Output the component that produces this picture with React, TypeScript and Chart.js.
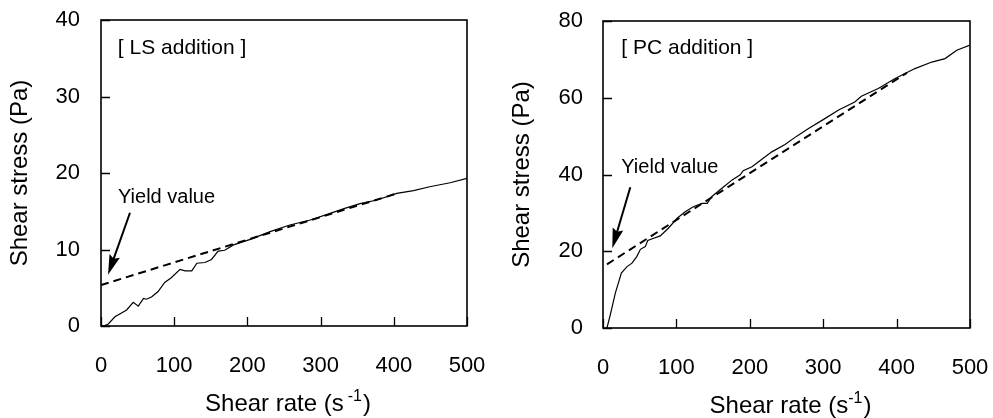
import React, { useEffect, useRef } from 'react';
import { Chart, registerables } from 'chart.js';

Chart.register(...registerables);

const FONT = '"Liberation Sans", Arial, Helvetica, sans-serif';

// ---- data: LS addition ----
const lsRate = [0, 5, 10, 19, 28, 35, 44, 51, 58, 62, 69, 78, 87, 96, 108, 115, 124, 131, 142, 151, 160, 169, 181, 204, 231, 258, 286, 313, 333, 354, 377, 404, 427, 449, 477, 500];
const lsStress = [0, 0.05, 0.26, 1.2, 1.7, 2.1, 3.1, 2.6, 3.6, 3.5, 3.8, 4.5, 5.7, 6.3, 7.4, 7.2, 7.2, 8.2, 8.3, 8.7, 9.8, 9.9, 10.6, 11.33, 12.33, 13.2, 13.86, 14.73, 15.38, 16.0, 16.47, 17.34, 17.69, 18.2, 18.73, 19.3];
const lsFitRate = [0, 405];
const lsFitStress = [5.35, 17.35];

// ---- data: PC addition ----
const pcRate = [5.4, 10, 16.8, 25, 32.7, 39.5, 46, 51, 57.6, 61, 69, 78, 89, 101, 112, 123, 135, 142, 148, 162, 176, 187, 191, 203, 216, 230, 248, 264, 280, 300, 321, 343, 352, 375, 398, 425, 448, 466, 482, 500];
const pcStress = [0, 3.5, 9.1, 14.3, 16.0, 16.9, 18.6, 20.5, 21.2, 22.8, 23.4, 24.0, 26.0, 28.6, 30.3, 31.6, 32.5, 32.5, 34.2, 36.4, 38.6, 39.9, 41.0, 42.0, 43.9, 45.9, 47.8, 50.0, 52.0, 54.3, 56.8, 58.9, 60.4, 62.4, 65.0, 67.6, 69.3, 70.2, 72.4, 73.7];
const pcFitRate = [5.4, 414];
const pcFitStress = [16.6, 66.5];

const xTicks = [0, 100, 200, 300, 400, 500];
const lsYTicks = [0, 10, 20, 30, 40];
const pcYTicks = [0, 20, 40, 60, 80];

const H = 418;

type Panel = {
  label: string;
  rate: number[];
  stress: number[];
  fitRate: number[];
  fitStress: number[];
  yTicks: number[];
  width: number;
  area: { left: number; right: number; top: number; bottom: number };
  yLabelPad: number;
  yTitlePad: number;
  labelAt: [number, number];
  yieldAt: [number, number];
  arrowFrom: [number, number];
  arrowTo: [number, number];
  supGap: number;
  xTitleBaseline: number;
  xTitleShift: number;
};

const panels: Panel[] = [
  {
    label: '[ LS addition ]',
    rate: lsRate, stress: lsStress, fitRate: lsFitRate, fitStress: lsFitStress,
    yTicks: lsYTicks,
    width: 496,
    area: { left: 101, right: 467, top: 20, bottom: 326 },
    yLabelPad: 21, yTitlePad: 6,
    labelAt: [23, 35.6],
    yieldAt: [23.2, 16.1],
    arrowFrom: [39.6, 14.8],
    arrowTo: [9.6, 6.7],
    supGap: 4,
    xTitleBaseline: 411,
    xTitleShift: 4,
  },
  {
    label: '[ PC addition ]',
    rate: pcRate, stress: pcStress, fitRate: pcFitRate, fitStress: pcFitStress,
    yTicks: pcYTicks,
    width: 497,
    area: { left: 107, right: 474, top: 21, bottom: 328 },
    yLabelPad: 20, yTitlePad: 12,
    labelAt: [24.9, 71.5],
    yieldAt: [24.9, 40.3],
    arrowFrom: [37.2, 36.7],
    arrowTo: [12.7, 20.8],
    supGap: 0,
    xTitleBaseline: 413,
    xTitleShift: 4,
  },
];

function makePlugin(p: Panel) {
  return {
    id: 'decor',
    afterDraw(chart: any) {
      const ctx: CanvasRenderingContext2D = chart.ctx;
      const xs = chart.scales.x;
      const ys = chart.scales.y;
      const a = chart.chartArea;
      ctx.save();
      // inward ticks
      ctx.strokeStyle = '#000';
      ctx.lineWidth = 1.3;
      ctx.beginPath();
      xs.ticks.forEach((t: any) => {
        const px = Math.round(xs.getPixelForValue(t.value)) + 0.5;
        ctx.moveTo(px, a.bottom);
        ctx.lineTo(px, a.bottom - 9);
      });
      ys.ticks.forEach((t: any) => {
        const py = Math.round(ys.getPixelForValue(t.value)) + 0.5;
        ctx.moveTo(a.left, py);
        ctx.lineTo(a.left + 9, py);
      });
      ctx.stroke();
      // frame
      ctx.lineWidth = 1.6;
      ctx.strokeRect(a.left, a.top, a.right - a.left, a.bottom - a.top);

      // panel label
      ctx.fillStyle = '#000';
      ctx.textBaseline = 'alphabetic';
      ctx.textAlign = 'left';
      ctx.font = `21px ${FONT}`;
      ctx.fillText(p.label, xs.getPixelForValue(p.labelAt[0]), ys.getPixelForValue(p.labelAt[1]));
      ctx.font = `20px ${FONT}`;
      ctx.fillText('Yield value', xs.getPixelForValue(p.yieldAt[0]), ys.getPixelForValue(p.yieldAt[1]));

      // arrow
      const x1 = xs.getPixelForValue(p.arrowFrom[0]);
      const y1 = ys.getPixelForValue(p.arrowFrom[1]);
      const x2 = xs.getPixelForValue(p.arrowTo[0]);
      const y2 = ys.getPixelForValue(p.arrowTo[1]);
      const ang = Math.atan2(y2 - y1, x2 - x1);
      const headLen = 20;
      const headHalf = 5.5;
      const bx = x2 - headLen * Math.cos(ang);
      const by = y2 - headLen * Math.sin(ang);
      ctx.lineWidth = 2;
      ctx.beginPath();
      ctx.moveTo(x1, y1);
      ctx.lineTo(bx + 4 * Math.cos(ang), by + 4 * Math.sin(ang));
      ctx.stroke();
      ctx.beginPath();
      ctx.moveTo(x2, y2);
      ctx.lineTo(bx + headHalf * Math.sin(ang), by - headHalf * Math.cos(ang));
      ctx.lineTo(bx + 3 * Math.cos(ang), by + 3 * Math.sin(ang));
      ctx.lineTo(bx - headHalf * Math.sin(ang), by + headHalf * Math.cos(ang));
      ctx.closePath();
      ctx.fill();

      // x axis title with superscript
      const main = 'Shear rate (s';
      const sup = '-1';
      const close = ')';
      ctx.font = `24px ${FONT}`;
      const wMain = ctx.measureText(main).width;
      const wClose = ctx.measureText(close).width;
      ctx.font = `16px ${FONT}`;
      const wSup = ctx.measureText(sup).width;
      const total = wMain + p.supGap + wSup + 1 + wClose;
      let sx = (a.left + a.right) / 2 + p.xTitleShift - total / 2;
      const base = p.xTitleBaseline;
      ctx.font = `24px ${FONT}`;
      ctx.fillText(main, sx, base);
      sx += wMain + p.supGap;
      ctx.font = `16px ${FONT}`;
      ctx.fillText(sup, sx, base - 10);
      sx += wSup + 1;
      ctx.font = `24px ${FONT}`;
      ctx.fillText(close, sx, base);
      ctx.restore();
    },
  };
}

function PanelChart({ p, left }: { p: Panel; left: number }) {
  const ref = useRef<HTMLCanvasElement | null>(null);
  useEffect(() => {
    if (!ref.current) return;
    const yMax = p.yTicks[p.yTicks.length - 1];
    const chart = new Chart(ref.current, {
      type: 'line',
      data: {
        datasets: [
          {
            data: p.rate.map((x, i) => ({ x, y: p.stress[i] })),
            borderColor: '#000',
            borderWidth: 1.2,
            pointRadius: 0,
            tension: 0,
            fill: false,
          },
          {
            data: p.fitRate.map((x, i) => ({ x, y: p.fitStress[i] })),
            borderColor: '#000',
            borderWidth: 2,
            borderDash: [8, 5],
            pointRadius: 0,
            tension: 0,
            fill: false,
          },
        ],
      },
      options: {
        responsive: false,
        animation: false,
        devicePixelRatio: 1,
        layout: { padding: { left: 0, top: p.area.top, right: p.width - p.area.right, bottom: 0 } },
        plugins: { legend: { display: false }, tooltip: { enabled: false } },
        scales: {
          x: {
            type: 'linear',
            min: xTicks[0],
            max: xTicks[xTicks.length - 1],
            afterBuildTicks: (s: any) => { s.ticks = xTicks.map((v) => ({ value: v })); },
            ticks: { color: '#000', font: { family: FONT, size: 22 }, padding: 27, maxRotation: 0 },
            grid: { display: false, drawTicks: false },
            border: { display: false },
            afterFit: (s: any) => {
              s.height = H - p.area.bottom;
              s.paddingLeft = 0;
              s.paddingRight = 0;
            },
          },
          y: {
            type: 'linear',
            min: p.yTicks[0],
            max: yMax,
            afterBuildTicks: (s: any) => { s.ticks = p.yTicks.map((v) => ({ value: v })); },
            ticks: { color: '#000', font: { family: FONT, size: 22 }, padding: p.yLabelPad },
            grid: { display: false, drawTicks: false },
            border: { display: false },
            title: {
              display: true,
              text: 'Shear stress (Pa)',
              color: '#000',
              font: { family: FONT, size: 24 },
              padding: { top: p.yTitlePad, bottom: 0 },
            },
            afterFit: (s: any) => {
              s.width = p.area.left;
              s.paddingTop = 0;
              s.paddingBottom = 0;
            },
          },
        },
      },
      plugins: [makePlugin(p)],
    } as any);
    return () => chart.destroy();
  }, [p]);
  return (
    <canvas
      ref={ref}
      width={p.width}
      height={H}
      style={{ position: 'absolute', left, top: 0, width: p.width, height: H, display: 'block' }}
    />
  );
}

export default function App() {
  return (
    <div style={{ position: 'fixed', left: 0, top: 0, width: 993, height: H, background: '#fff', overflow: 'hidden' }}>
      <PanelChart p={panels[0]} left={0} />
      <PanelChart p={panels[1]} left={496} />
    </div>
  );
}
